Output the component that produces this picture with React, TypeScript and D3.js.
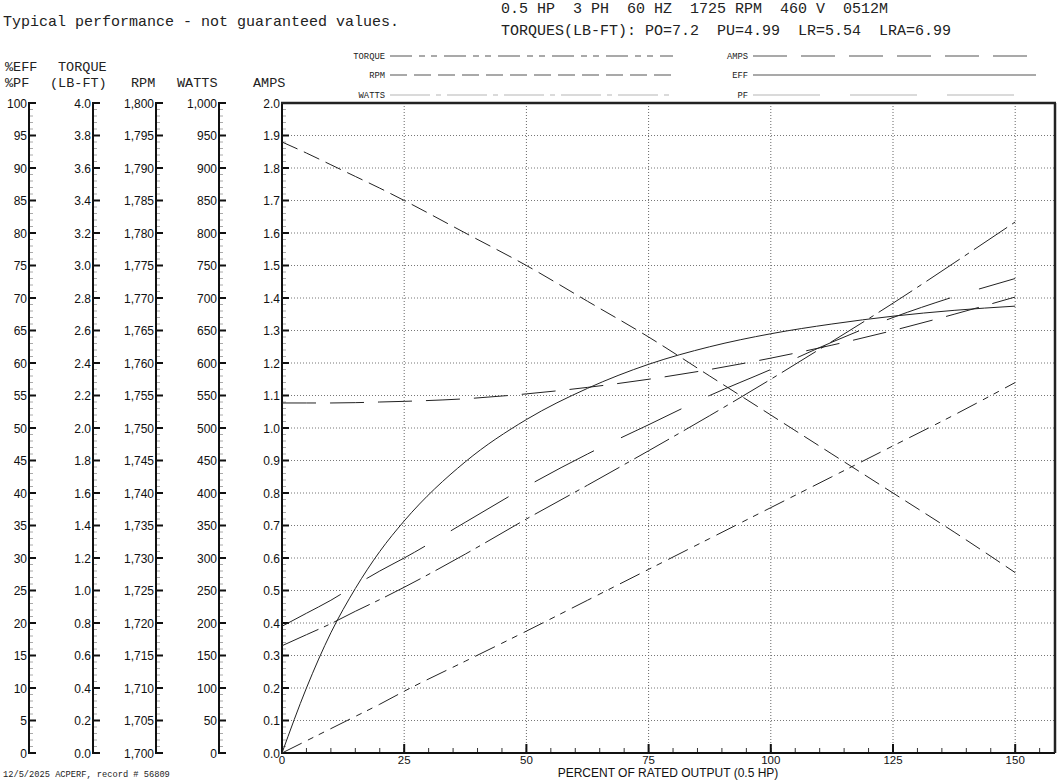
import React from "react";
import * as d3 from "d3";

// ---------- data ----------
const loadPct = [0, 5, 10, 15, 20, 25, 37.5, 50, 62.5, 75, 87.5, 100, 112.5, 125, 137.5, 150];
const effPct = [0, 10, 18.5, 25.3, 31, 35.7, 44.8, 51.3, 56.1, 59.8, 62.5, 64.5, 66, 67.2, 68.1, 68.75];
const pfPct = [19.5, 21.5, 23.5, 25.8, 28, 30, 35.5, 41, 46, 50.5, 55, 59, 63.2, 67, 70.2, 73];
const torqueLbFt = [0, 0.075, 0.15, 0.225, 0.3, 0.38, 0.565, 0.75, 0.94, 1.13, 1.32, 1.51, 1.7, 1.89, 2.08, 2.28];
const rpmValues = [1794, 1792.3, 1790.5, 1788.7, 1786.9, 1785, 1780, 1775, 1769.5, 1764, 1758, 1752, 1746, 1740, 1734, 1727.75];
const wattsValues = [165, 182, 199, 218, 236, 255, 306, 360, 412, 465, 519, 575, 633, 692, 754, 817];
const ampsValues = [1.077, 1.077, 1.077, 1.078, 1.08, 1.082, 1.09, 1.105, 1.125, 1.15, 1.18, 1.215, 1.255, 1.3, 1.35, 1.403];

const xTicks = [0, 25, 50, 75, 100, 125, 150];
const headerLine1 = "0.5 HP  3 PH  60 HZ  1725 RPM  460 V  0512M";
const headerLine2 = "TORQUES(LB-FT): PO=7.2  PU=4.99  LR=5.54  LRA=6.99";
const noteText = "Typical performance - not guaranteed values.";
const footerText = "12/5/2025 ACPERF, record # 56809";
const xTitle = "PERCENT OF RATED OUTPUT (0.5 HP)";

// ---------- layout ----------
const W = 1060, H = 780;
const PL = 282, PR = 1055, PT = 103, PB = 753;
const X150 = 1015.2;

const mono = "'Liberation Mono', 'Courier New', monospace";
const sans = "'Liberation Sans Narrow', 'Arial Narrow', 'Liberation Sans', Arial, sans-serif";

const x = d3.scaleLinear().domain([0, 150]).range([PL, X150]);
const yAmps = d3.scaleLinear().domain([0, 2]).range([PB, PT]);
const yPct = d3.scaleLinear().domain([0, 100]).range([PB, PT]);
const yTorque = d3.scaleLinear().domain([0, 4]).range([PB, PT]);
const yRpm = d3.scaleLinear().domain([1700, 1800]).range([PB, PT]);
const yWatts = d3.scaleLinear().domain([0, 1000]).range([PB, PT]);

type AxisDef = {
  ax: number;
  scale: d3.ScaleLinear<number, number>;
  major: number;
  minor: number;
  fmt: (v: number) => string;
};

const axes: AxisDef[] = [
  { ax: 29, scale: yPct, major: 5, minor: 1, fmt: d3.format("d") },
  { ax: 93, scale: yTorque, major: 0.2, minor: 0.04, fmt: d3.format(".1f") },
  { ax: 156, scale: yRpm, major: 5, minor: 1, fmt: d3.format(",") },
  { ax: 219, scale: yWatts, major: 50, minor: 10, fmt: d3.format(",") },
  { ax: PL, scale: yAmps, major: 0.1, minor: 0.02, fmt: d3.format(".1f") },
];

function steps(d0: number, d1: number, step: number) {
  const n = Math.round((d1 - d0) / step);
  return d3.range(n + 1).map((i) => d0 + i * step);
}

function Axis({ def }: { def: AxisDef }) {
  const [d0, d1] = def.scale.domain();
  const majors = steps(d0, d1, def.major);
  const minors = steps(d0, d1, def.minor);
  return (
    <g>
      {minors.map((v, i) => (
        <line key={"m" + i} x1={def.ax} x2={def.ax + 4} y1={def.scale(v)} y2={def.scale(v)} stroke="#aaa" strokeWidth={1} />
      ))}
      {majors.map((v, i) => (
        <g key={"M" + i}>
          <line x1={def.ax} x2={def.ax + 7} y1={def.scale(v)} y2={def.scale(v)} stroke="#111" strokeWidth={2} />
          <text x={def.ax - 2} y={def.scale(v) + 4.5} textAnchor="end" fontFamily={sans} fontSize={12} fill="#111">
            {def.fmt(v)}
          </text>
        </g>
      ))}
      <line x1={def.ax} x2={def.ax} y1={PT - 1} y2={PB + 1} stroke="#111" strokeWidth={2} />
    </g>
  );
}

type Series = { name: string; values: number[]; scale: d3.ScaleLinear<number, number>; dash: string; legendColor: string };

const series: Series[] = [
  { name: "TORQUE", values: torqueLbFt, scale: yTorque, dash: "22,7,6,6,6,7", legendColor: "#555" },
  { name: "RPM", values: rpmValues, scale: yRpm, dash: "17,7", legendColor: "#555" },
  { name: "WATTS", values: wattsValues, scale: yWatts, dash: "40,6,5,6", legendColor: "#b5b5b5" },
  { name: "AMPS", values: ampsValues, scale: yAmps, dash: "34,14", legendColor: "#555" },
  { name: "EFF", values: effPct, scale: yPct, dash: "none", legendColor: "#555" },
  { name: "PF", values: pfPct, scale: yPct, dash: "67,30", legendColor: "#b5b5b5" },
];

const legendPos = [
  { lx: 385, x1: 390, x2: 673, y: 56 },
  { lx: 385, x1: 390, x2: 673, y: 75 },
  { lx: 385, x1: 390, x2: 673, y: 95 },
  { lx: 748, x1: 753, x2: 1036, y: 56 },
  { lx: 748, x1: 753, x2: 1036, y: 75 },
  { lx: 748, x1: 753, x2: 1036, y: 95 },
];

export default function App() {
  const hGrid = steps(0.1, 1.9, 0.1);
  const xMinor = steps(0, 155, 5);
  return (
    <svg width={W} height={H} style={{ position: "absolute", left: 0, top: 0, background: "#fff" }}>
      <rect x={0} y={0} width={W} height={H} fill="#fff" />
      {/* header texts */}
      <text x={3} y={26} fontFamily={mono} fontSize={15} fill="#222">{noteText}</text>
      <text x={501} y={13} fontFamily={mono} fontSize={15} fill="#222" style={{ whiteSpace: "pre" }}>{headerLine1}</text>
      <text x={501} y={35} fontFamily={mono} fontSize={15} fill="#222" style={{ whiteSpace: "pre" }}>{headerLine2}</text>

      {/* axis headers */}
      <g fontFamily={mono} fontSize={13.5} fill="#222">
        <text x={5} y={71}>%EFF</text>
        <text x={58} y={71}>TORQUE</text>
        <text x={5} y={87}>%PF</text>
        <text x={50} y={87}>(LB-FT)</text>
        <text x={131} y={87}>RPM</text>
        <text x={177} y={87}>WATTS</text>
        <text x={253} y={87}>AMPS</text>
      </g>

      {/* legend */}
      {series.map((s, i) => {
        const p = legendPos[i];
        return (
          <g key={s.name}>
            <text x={p.lx} y={p.y + 3} textAnchor="end" fontFamily={mono} fontSize={8.8} fill="#222">{s.name}</text>
            <line x1={p.x1} x2={p.x2} y1={p.y} y2={p.y} stroke={s.legendColor} strokeWidth={1.2} strokeDasharray={s.dash} />
          </g>
        );
      })}

      {/* grid */}
      {hGrid.map((v, i) => (
        <line key={"hg" + i} x1={PL} x2={PR} y1={yAmps(v)} y2={yAmps(v)} stroke="#777" strokeWidth={1} strokeDasharray="1,2" />
      ))}
      {xTicks.slice(1).map((v) => (
        <line key={"vg" + v} x1={x(v)} x2={x(v)} y1={PT} y2={PB} stroke="#666" strokeWidth={1} strokeDasharray="1,2" />
      ))}

      {/* left axes */}
      {axes.map((a, i) => <Axis key={i} def={a} />)}

      {/* x axis */}
      {xMinor.map((v) => (
        <line key={"xm" + v} x1={x(v)} x2={x(v)} y1={PB} y2={PB - 5} stroke="#333" strokeWidth={1} />
      ))}
      {xTicks.map((v) => (
        <g key={"xt" + v}>
          <line x1={x(v)} x2={x(v)} y1={PB} y2={PB - 9} stroke="#111" strokeWidth={2} />
          <text x={x(v)} y={PB + 11} textAnchor="middle" fontFamily={sans} fontSize={11.5} fill="#111">{v}</text>
        </g>
      ))}
      <text x={668} y={777} textAnchor="middle" fontFamily={sans} fontSize={12} fill="#111">{xTitle}</text>

      {/* frame */}
      <line x1={PL} x2={PR} y1={PB} y2={PB} stroke="#111" strokeWidth={2} />
      <line x1={PL - 1} x2={PR + 1} y1={PT} y2={PT} stroke="#222" strokeWidth={2.5} />
      <line x1={PR} x2={PR} y1={PT} y2={PB} stroke="#222" strokeWidth={2.5} />

      {/* curves */}
      {series.map((s) => {
        const line = d3
          .line<number>()
          .x((_, i) => x(loadPct[i]))
          .y((v) => s.scale(v))
          .curve(d3.curveMonotoneX);
        return (
          <path key={"c" + s.name} d={line(s.values) || ""} fill="none" stroke="#222" strokeWidth={1} strokeDasharray={s.dash} />
        );
      })}

      {/* footer */}
      <text x={3} y={777} fontFamily={mono} fontSize={8.7} fill="#222">{footerText}</text>
    </svg>
  );
}
